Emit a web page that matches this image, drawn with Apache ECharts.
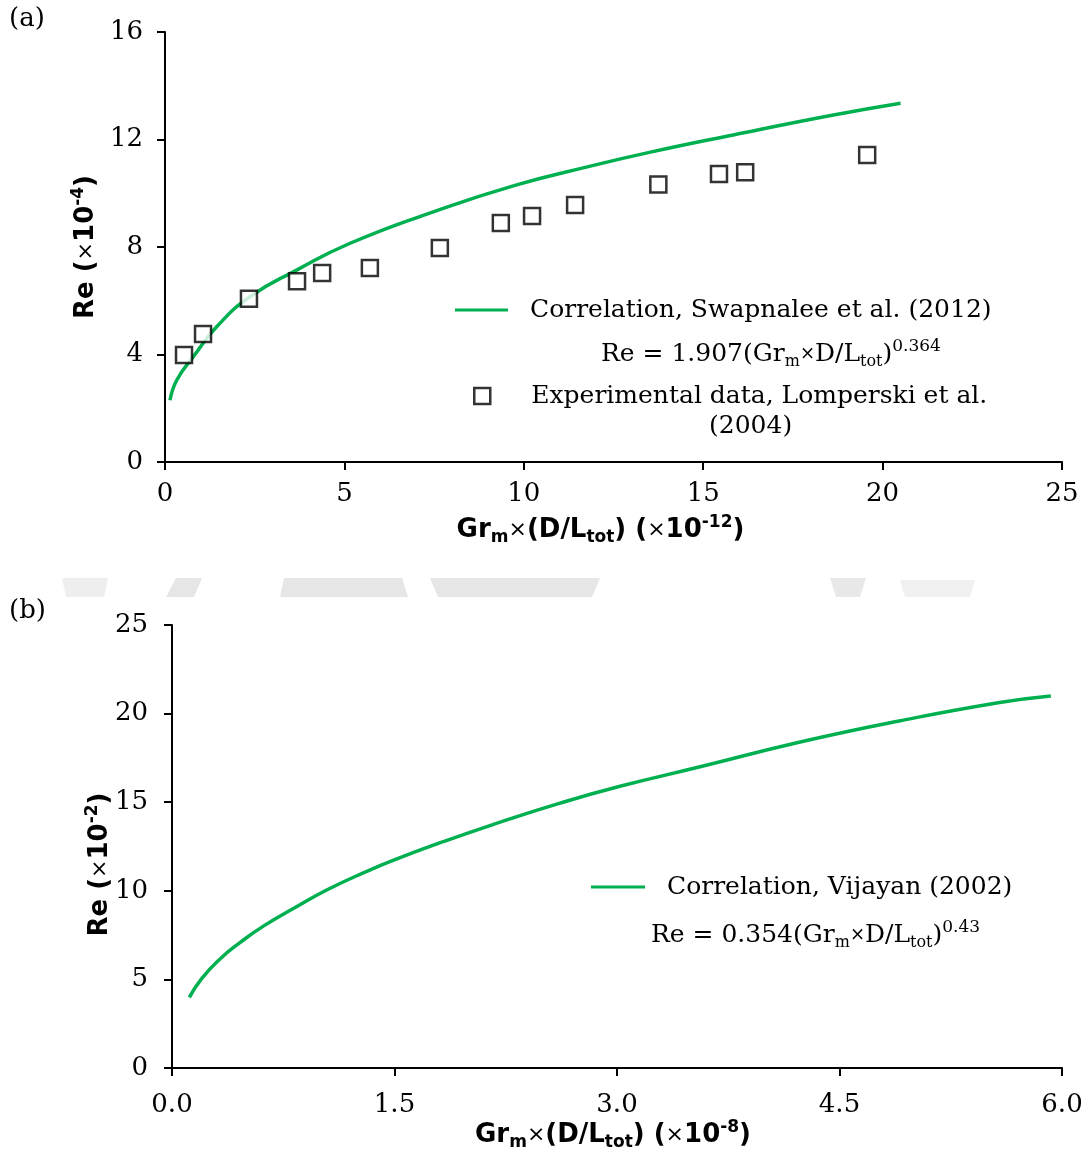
<!DOCTYPE html>
<html>
<head>
<meta charset="utf-8">
<script src="https://cdn.jsdelivr.net/npm/echarts@6/dist/echarts.min.js"></script>
<style>
  html, body { margin: 0; padding: 0; background: #fff; }
  #main { width: 1090px; height: 1152px; }
</style>
</head>
<body>
<div id="main"></div>
<script>
// (a) experimental data, Lomperski et al. (2004)
const expX = [0.53, 1.06, 2.34, 3.68, 4.38, 5.71, 7.66, 9.36, 10.23, 11.43, 13.75, 15.44, 16.17, 19.57]
const expRe = [3.98, 4.76, 6.07, 6.73, 7.03, 7.22, 7.96, 8.89, 9.15, 9.56, 10.33, 10.72, 10.78, 11.42]
// (a) correlation curve, Swapnalee et al. (2012)
const corrAX = [0.14, 0.33, 0.79, 1.44, 2.37, 3.67, 5.16, 7.48, 9.8, 11.8, 13.5, 15.84, 18.63, 20.5]
const corrARe = [2.3, 3.05, 3.92, 5.03, 6.15, 7.14, 8.14, 9.31, 10.31, 10.99, 11.52, 12.17, 12.91, 13.35]
// (b) correlation curve, Vijayan (2002)
const corrBX = [0.117, 0.2, 0.324, 0.458, 0.616, 0.818, 1.043, 1.313, 1.49, 1.83, 2.167, 2.616, 3.02, 3.56, 4.235, 4.91, 5.58, 5.925]
const corrBRe = [3.99, 5.05, 6.16, 7.08, 8.01, 9.0, 10.05, 11.1, 11.72, 12.78, 13.75, 14.95, 15.9, 17.0, 18.4, 19.6, 20.63, 21.0]

const nameA = 'Correlation, Swapnalee et al. (2012)'
const nameExp = 'Experimental data, Lomperski et al.'
const nameB = 'Correlation, Vijayan (2002)'

const GREEN = '#00b050'
const SERIF = '"DejaVu Serif", serif'
const SANS = '"DejaVu Sans", sans-serif'

const zip = (xs, ys) => xs.map((x, i) => [x, ys[i]])

// rich styles for sub/superscripts
const formulaRich = {
  n: { fontFamily: SERIF, fontSize: 25, lineHeight: 32, color: '#000' },
  x: { fontFamily: SERIF, fontSize: 18, lineHeight: 32, color: '#000' },
  s: { fontFamily: SERIF, fontSize: 16, lineHeight: 15, verticalAlign: 'bottom', color: '#000' },
  p: { fontFamily: SERIF, fontSize: 17, lineHeight: 16, verticalAlign: 'top', color: '#000' }
}
const titleRich = {
  b: { fontFamily: SANS, fontWeight: 'bold', fontSize: 26, lineHeight: 32, color: '#000' },
  r: { fontFamily: SANS, fontSize: 22, lineHeight: 32, color: '#000' },
  s: { fontFamily: SANS, fontWeight: 'bold', fontSize: 17, lineHeight: 15, verticalAlign: 'bottom', color: '#000' },
  p: { fontFamily: SANS, fontWeight: 'bold', fontSize: 17, lineHeight: 15, verticalAlign: 'top', color: '#000' }
}

function axisCommon() {
  return {
    axisLine: { show: true, onZero: false, lineStyle: { color: '#000', width: 2 } },
    axisTick: { show: true, length: 8, lineStyle: { color: '#000', width: 2 } },
    splitLine: { show: false },
    axisLabel: { color: '#000', fontFamily: SERIF, fontSize: 26 }
  }
}

let myChart = echarts.init(document.getElementById('main'))

myChart.setOption({
  animation: false,
  backgroundColor: '#fff',
  grid: [
    { left: 165, right: 28, top: 32, bottom: 690 },
    { left: 172, right: 28, top: 625, bottom: 78 }
  ],
  xAxis: [
    {
      ...axisCommon(), gridIndex: 0, type: 'value', min: 0, max: 25, interval: 5,
      axisLabel: { ...axisCommon().axisLabel, margin: 19 },
      name: '{b|Gr}{s|m}{r|×}{b|(D/L}{s|tot}{b|) (}{r|×}{b|10}{p|-12}{b|)}',
      nameLocation: 'middle', nameGap: 52,
      nameTextStyle: { rich: titleRich, padding: [0, 26, 0, 0] }
    },
    {
      ...axisCommon(), gridIndex: 1, type: 'value', min: 0, max: 6, interval: 1.5,
      axisLabel: { ...axisCommon().axisLabel, margin: 24, formatter: v => v.toFixed(1) },
      name: '{b|Gr}{s|m}{r|×}{b|(D/L}{s|tot}{b|) (}{r|×}{b|10}{p|-8}{b|)}',
      nameLocation: 'middle', nameGap: 50,
      nameTextStyle: { rich: titleRich, padding: [0, 8, 0, 0] }
    }
  ],
  yAxis: [
    {
      ...axisCommon(), gridIndex: 0, type: 'value', min: 0, max: 16, interval: 4,
      axisLabel: { ...axisCommon().axisLabel, margin: 22 },
      name: '{b|Re (}{r|×}{b|10}{p|-4}{b|)}',
      nameLocation: 'middle', nameGap: 58,
      nameTextStyle: { rich: titleRich }
    },
    {
      ...axisCommon(), gridIndex: 1, type: 'value', min: 0, max: 25, interval: 5,
      axisLabel: { ...axisCommon().axisLabel, margin: 24 },
      name: '{b|Re (}{r|×}{b|10}{p|-2}{b|)}',
      nameLocation: 'middle', nameGap: 56, nameMoveOverlap: false,
      // title sits a bit below the middle of the axis, touching the labels
      nameTextStyle: { rich: titleRich, padding: [0, 36, 0, 0] }
    }
  ],
  legend: [
    {
      data: [nameA], left: 455, top: 295, padding: 0,
      icon: 'rect', itemWidth: 53, itemHeight: 3,
      textStyle: { fontFamily: SERIF, fontSize: 25, lineHeight: 30, color: '#000', padding: [0, 0, 0, 17] }
    },
    {
      data: [nameExp], left: 473, top: 381, padding: 0,
      icon: 'rect', itemWidth: 16, itemHeight: 16,
      itemStyle: { color: '#fff', borderColor: '#000', borderWidth: 2.5 },
      textStyle: { fontFamily: SERIF, fontSize: 25, lineHeight: 30, color: '#000', padding: [0, 0, 0, 36] }
    },
    {
      data: [nameB], left: 591, top: 872, padding: 0,
      icon: 'rect', itemWidth: 54, itemHeight: 3,
      textStyle: { fontFamily: SERIF, fontSize: 25, lineHeight: 30, color: '#000', padding: [0, 0, 0, 17] }
    }
  ],
  graphic: [
    // faint watermark band between the panels
    { type: 'polygon', shape: { points: [[62, 578], [108, 578], [104, 597], [66, 597]] }, style: { fill: '#eeeeee' }, z: -1 },
    { type: 'polygon', shape: { points: [[176, 578], [202, 578], [194, 597], [166, 597]] }, style: { fill: '#e6e6e6' }, z: -1 },
    { type: 'polygon', shape: { points: [[284, 578], [402, 578], [408, 597], [280, 597]] }, style: { fill: '#e6e6e6' }, z: -1 },
    { type: 'polygon', shape: { points: [[430, 578], [600, 578], [592, 597], [438, 597]] }, style: { fill: '#e6e6e6' }, z: -1 },
    { type: 'polygon', shape: { points: [[830, 578], [866, 578], [860, 597], [836, 597]] }, style: { fill: '#e8e8e8' }, z: -1 },
    { type: 'polygon', shape: { points: [[900, 580], [975, 580], [970, 597], [905, 597]] }, style: { fill: '#f0f0f0' }, z: -1 },
    { type: 'text', left: 9, top: 6, style: { text: '(a)', font: '26px ' + SERIF, fill: '#000' } },
    { type: 'text', left: 9, top: 598, style: { text: '(b)', font: '26px ' + SERIF, fill: '#000' } },
    {
      type: 'text', left: 601, top: 338,
      style: { text: '{n|Re = 1.907(Gr}{s|m}{x|×}{n|D/L}{s|tot}{n|)}{p|0.364}', rich: formulaRich }
    },
    {
      type: 'text', left: 709, top: 414,
      style: { text: '(2004)', font: '25px ' + SERIF, fill: '#000' }
    },
    {
      type: 'text', left: 651, top: 919,
      style: { text: '{n|Re = 0.354(Gr}{s|m}{x|×}{n|D/L}{s|tot}{n|)}{p|0.43}', rich: formulaRich }
    }
  ],
  series: [
    {
      name: nameA, type: 'line', xAxisIndex: 0, yAxisIndex: 0,
      data: zip(corrAX, corrARe), smooth: true, showSymbol: false,
      lineStyle: { color: GREEN, width: 3.5 }, itemStyle: { color: GREEN }, z: 2
    },
    {
      name: nameExp, type: 'scatter', xAxisIndex: 0, yAxisIndex: 0,
      data: zip(expX, expRe), symbol: 'rect', symbolSize: 16,
      itemStyle: { color: '#fff', borderColor: '#000', borderWidth: 2.5 }, z: 3
    },
    {
      name: nameB, type: 'line', xAxisIndex: 1, yAxisIndex: 1,
      data: zip(corrBX, corrBRe), smooth: true, showSymbol: false,
      lineStyle: { color: GREEN, width: 3.5 }, itemStyle: { color: GREEN }
    }
  ]
})

window.onresize = function () {
  myChart.resize()
}
</script>
</body>
</html>
